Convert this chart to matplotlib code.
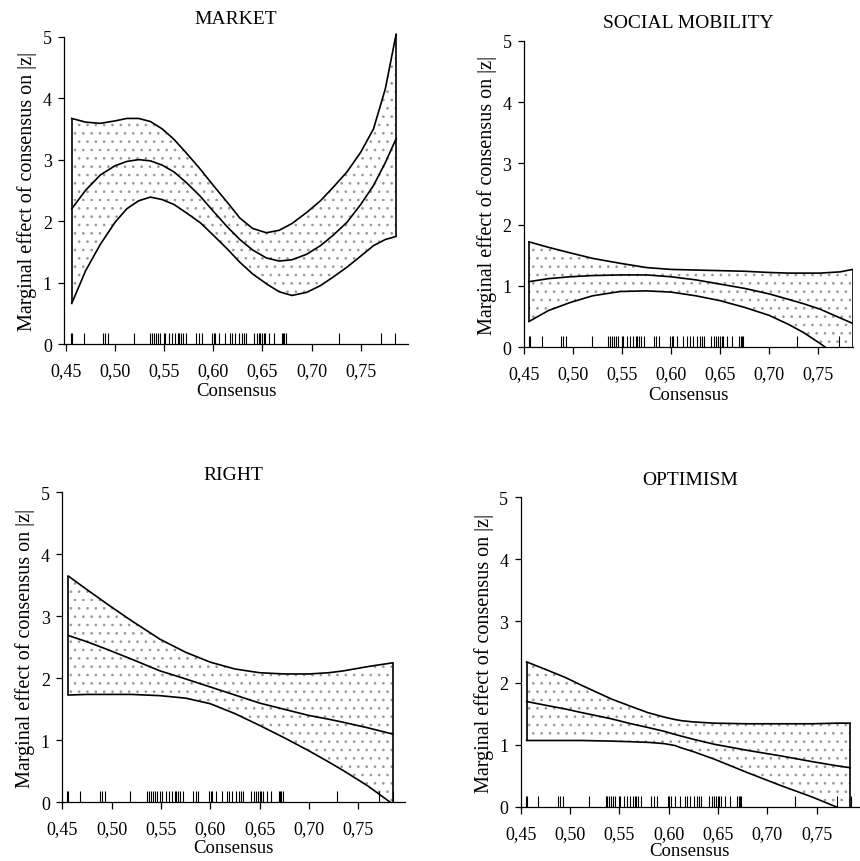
import matplotlib
matplotlib.use("Agg")
import matplotlib.pyplot as plt

plt.rcParams['font.family'] = ['Liberation Serif', 'DejaVu Serif']
plt.rcParams['hatch.color'] = '#999999'
plt.rcParams['hatch.linewidth'] = 0.7

# ---------------- data ----------------
titles = ["MARKET", "SOCIAL MOBILITY", "RIGHT", "OPTIMISM"]
xtick_vals = [0.45, 0.50, 0.55, 0.60, 0.65, 0.70, 0.75]
xtick_labels = ["0,45", "0,50", "0,55", "0,60", "0,65", "0,70", "0,75"]
ytick_vals = [0, 1, 2, 3, 4, 5]
ytick_labels = ["0", "1", "2", "3", "4", "5"]
ylabel_text = "Marginal effect of consensus on |z|"
xlabel_text = "Consensus"

rug = [0.455, 0.456, 0.468, 0.488, 0.490, 0.493, 0.519, 0.536, 0.538, 0.540,
       0.542, 0.544, 0.546, 0.5495, 0.551, 0.555, 0.558, 0.561, 0.564, 0.5655,
       0.567, 0.569, 0.572, 0.5825, 0.585, 0.588, 0.599, 0.6005, 0.602, 0.606,
       0.612, 0.6165, 0.619, 0.622, 0.626, 0.629, 0.631, 0.633, 0.641, 0.644,
       0.646, 0.648, 0.650, 0.6515, 0.653, 0.657, 0.662, 0.6695, 0.671, 0.672,
       0.6735, 0.728, 0.771, 0.785]

# MARKET
market_x = [0.456, 0.47, 0.485, 0.50, 0.512, 0.524, 0.536, 0.548, 0.56, 0.573,
            0.587, 0.60, 0.614, 0.627, 0.64, 0.654, 0.667, 0.68, 0.695, 0.709,
            0.722, 0.736, 0.75, 0.763, 0.775, 0.786]
market_upper = [3.67, 3.61, 3.59, 3.63, 3.67, 3.67, 3.62, 3.50, 3.33, 3.10,
                2.84, 2.58, 2.31, 2.05, 1.88, 1.81, 1.85, 1.96, 2.14, 2.33,
                2.55, 2.80, 3.12, 3.50, 4.15, 5.04]
market_mid = [2.20, 2.50, 2.75, 2.90, 2.97, 3.00, 2.98, 2.91, 2.80, 2.62,
              2.40, 2.16, 1.91, 1.70, 1.53, 1.40, 1.35, 1.37, 1.46, 1.60,
              1.77, 1.98, 2.27, 2.58, 2.95, 3.34]
market_lower = [0.66, 1.19, 1.62, 1.98, 2.20, 2.33, 2.39, 2.35, 2.27, 2.13,
                1.97, 1.77, 1.55, 1.33, 1.14, 0.98, 0.85, 0.79, 0.84, 0.95,
                1.09, 1.25, 1.43, 1.60, 1.70, 1.75]

# SOCIAL MOBILITY
social_x = [0.455, 0.475, 0.497, 0.52, 0.548, 0.575, 0.60, 0.625, 0.65, 0.675,
            0.70, 0.72, 0.735, 0.752, 0.772, 0.785]
social_upper = [1.72, 1.63, 1.54, 1.45, 1.37, 1.30, 1.27, 1.26, 1.25, 1.24,
                1.22, 1.21, 1.21, 1.21, 1.23, 1.27]
social_mid = [1.07, 1.12, 1.15, 1.17, 1.18, 1.18, 1.15, 1.10, 1.03, 0.96,
              0.87, 0.78, 0.71, 0.62, 0.48, 0.39]
social_lower = [0.42, 0.60, 0.73, 0.84, 0.91, 0.92, 0.90, 0.84, 0.76, 0.65,
                0.52, 0.37, 0.24, 0.06, -0.17, -0.34]

# RIGHT
right_x = [0.456, 0.475, 0.498, 0.52, 0.549, 0.575, 0.60, 0.625, 0.65, 0.675,
           0.70, 0.72, 0.735, 0.76, 0.785]
right_upper = [3.65, 3.43, 3.17, 2.93, 2.63, 2.42, 2.26, 2.15, 2.09, 2.07,
               2.07, 2.09, 2.12, 2.19, 2.25]
right_mid = [2.69, 2.59, 2.45, 2.31, 2.12, 1.99, 1.86, 1.73, 1.60, 1.50,
             1.40, 1.34, 1.29, 1.20, 1.10]
right_lower = [1.73, 1.74, 1.74, 1.74, 1.72, 1.68, 1.59, 1.43, 1.24, 1.04,
               0.83, 0.65, 0.51, 0.26, -0.03]

# OPTIMISM
optim_x = [0.456, 0.475, 0.495, 0.512, 0.542, 0.562, 0.579, 0.595, 0.606, 0.613,
           0.625, 0.646, 0.68, 0.714, 0.745, 0.771, 0.784]
optim_upper = [2.34, 2.22, 2.09, 1.96, 1.74, 1.62, 1.52, 1.45, 1.41, 1.39,
               1.37, 1.35, 1.34, 1.34, 1.34, 1.35, 1.35]
optim_mid = [1.70, 1.64, 1.58, 1.52, 1.42, 1.34, 1.28, 1.22, 1.17, 1.14,
             1.09, 1.01, 0.91, 0.82, 0.73, 0.66, 0.63]
optim_lower = [1.07, 1.07, 1.07, 1.07, 1.06, 1.05, 1.04, 1.02, 0.99, 0.95,
               0.89, 0.77, 0.55, 0.34, 0.16, -0.01, -0.09]

panels = [
    (market_x, market_upper, market_mid, market_lower),
    (social_x, social_upper, social_mid, social_lower),
    (right_x, right_upper, right_mid, right_lower),
    (optim_x, optim_upper, optim_mid, optim_lower),
]

# ---------------- layout (pixels in an 860x862 canvas) ----------------
W, H = 860, 862
YTOP = 5.08
# (left px, right px, y=0 px, y=5 px, xlim left, xlim right, xlabel baseline offset px)
layout = [
    (64.3, 408.0, 345.0, 37.7, 0.4484, 0.7981, 51),
    (524.0, 853.0, 348.3, 41.7, 0.4500, 0.7853, 52),
    (62.3, 405.0, 803.3, 493.3, 0.4500, 0.7973, 50),
    (520.7, 859.0, 807.7, 498.3, 0.4507, 0.7930, 48),
]

fig = plt.figure(figsize=(W / 100, H / 100), dpi=100)

for (xs, up, mid, lo), title, (lpx, rpx, y0px, y5px, xl, xr, xlab_off) in zip(panels, titles, layout):
    per_unit = (y0px - y5px) / 5.0
    top_px = y0px - per_unit * YTOP
    ax = fig.add_axes([lpx / W, 1 - y0px / H, (rpx - lpx) / W, (y0px - top_px) / H])
    ax.set_xlim(xl, xr)
    ax.set_ylim(0, YTOP)

    ax.fill_between(xs, lo, up, facecolor='white', edgecolor='#999999',
                    hatch='..', linewidth=0)
    for series in (up, mid, lo):
        ax.plot(xs, series, color='black', lw=1.2)
    ax.vlines([xs[0], xs[-1]], [lo[0], lo[-1]], [up[0], up[-1]], color='black', lw=1.2)
    ax.vlines(rug, 0, 0.18, color='black', lw=0.8)

    for s in ('top', 'right'):
        ax.spines[s].set_visible(False)
    ax.spines['left'].set_bounds(0, 5)
    ax.spines['left'].set_linewidth(0.9)
    ax.spines['bottom'].set_linewidth(0.9)

    ax.set_xticks(xtick_vals)
    ax.set_xticklabels(xtick_labels)
    ax.set_yticks(ytick_vals)
    ax.set_yticklabels(ytick_labels)
    ax.tick_params(axis='x', direction='out', length=5, width=0.9, pad=8, labelsize=13)
    ax.tick_params(axis='y', direction='out', length=4, width=0.9, pad=5, labelsize=13)

    ax.set_title(title, fontsize=14, pad=6)
    ax.set_xlabel(xlabel_text, fontsize=13.5)
    ax.set_ylabel(ylabel_text, fontsize=14.5)
    hpx = rpx - lpx
    vpx = y0px - top_px
    ax.xaxis.label.set_va('baseline')
    ax.xaxis.set_label_coords(0.5, -xlab_off / vpx)
    ax.yaxis.set_label_coords(-27 / hpx, (y0px - (y0px + y5px) / 2) / vpx)

fig.savefig("out.png", dpi=100)
